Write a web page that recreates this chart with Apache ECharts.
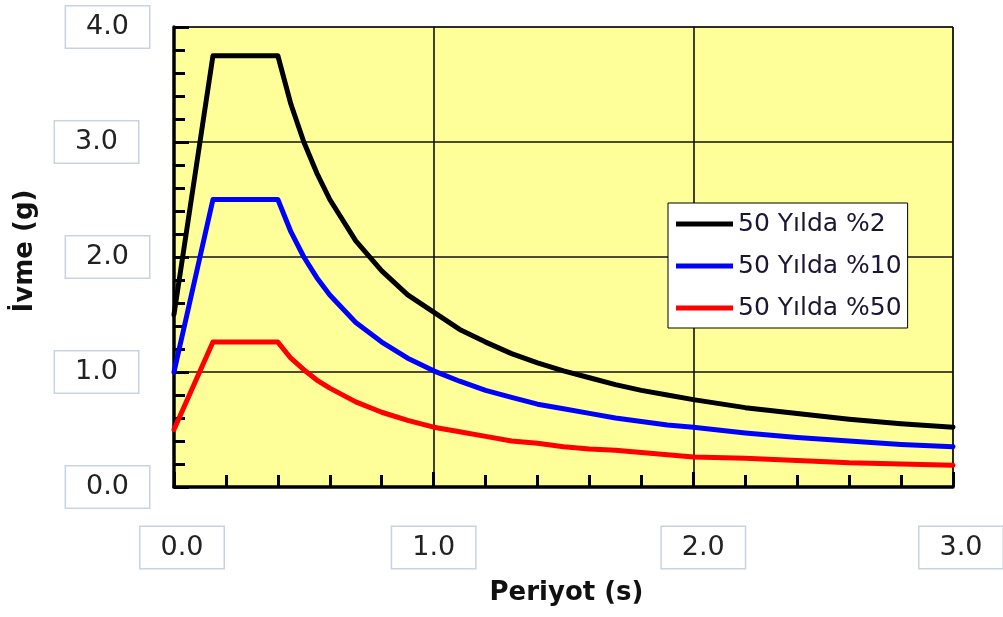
<!DOCTYPE html>
<html>
<head>
<meta charset="utf-8">
<script src="https://cdn.jsdelivr.net/npm/echarts@6/dist/echarts.min.js"></script>
<style>
  html, body { margin: 0; padding: 0; background: #ffffff; }
  #chart { width: 1003px; height: 617px; }
</style>
</head>
<body>
<div id="chart"></div>
<script>
// Periods (s)
var periods = [0, 0.15, 0.4, 0.45, 0.5, 0.55, 0.6, 0.7, 0.8, 0.9, 1.0, 1.1, 1.2, 1.3, 1.4, 1.5,
               1.6, 1.7, 1.8, 1.9, 2.0, 2.2, 2.4, 2.6, 2.8, 3.0];

// Spectral acceleration (g) for each hazard level
var accel2 = [1.50, 3.75, 3.75, 3.33, 3.00, 2.73, 2.50, 2.14, 1.88, 1.67, 1.52, 1.37, 1.26, 1.16, 1.08, 1.01,
              0.95, 0.89, 0.84, 0.80, 0.76, 0.69, 0.64, 0.59, 0.55, 0.52];
var accel10 = [1.00, 2.50, 2.50, 2.22, 2.00, 1.82, 1.67, 1.43, 1.26, 1.12, 1.01, 0.92, 0.84, 0.78, 0.72, 0.68,
               0.64, 0.60, 0.57, 0.54, 0.52, 0.47, 0.43, 0.40, 0.37, 0.35];
var accel50 = [0.50, 1.26, 1.26, 1.12, 1.02, 0.93, 0.86, 0.74, 0.65, 0.58, 0.52, 0.48, 0.44, 0.40, 0.38, 0.35,
               0.33, 0.32, 0.30, 0.28, 0.26, 0.25, 0.23, 0.21, 0.20, 0.19];

var seriesNames = ['50 Yılda %2', '50 Yılda %10', '50 Yılda %50'];
var seriesColors = ['#000000', '#0000ff', '#ff0000'];

var xTickLabels = ['0.0', '1.0', '2.0', '3.0'];
var yTickLabels = ['0.0', '1.0', '2.0', '3.0', '4.0'];

function pairs(xs, ys) {
  return xs.map(function (x, i) { return [x, ys[i]]; });
}

var FONT = 'DejaVu Sans';

// boxed tick label style
var boxStyle = {
  fontFamily: FONT,
  fontSize: 27,
  color: '#222222',
  height: 33,
  lineHeight: 33,
  backgroundColor: '#ffffff',
  borderColor: '#c8d2e4',
  borderWidth: 1.5,
  padding: [4, 20, 4, 20]
};

// small spacers nudging individual label boxes
var xShift = { '0.0': 16, '1.0': 0, '2.0': 20, '3.0': 16 };
var yShift = { '0.0': 0, '1.0': 11, '2.0': 0, '3.0': 11, '4.0': 0 };

function spacer(w) {
  return w > 0 ? '{s' + w + '|}' : '';
}

var richCommon = { box: boxStyle, s11: { width: 11 }, s16: { width: 16 }, s20: { width: 20 } };

var chart = echarts.init(document.getElementById('chart'), null, { renderer: 'canvas' });

chart.setOption({
  backgroundColor: '#ffffff',
  animation: false,
  grid: {
    left: 174, right: 50, top: 27, bottom: 130,
    outerBoundsMode: 'none',
    containLabel: false,
    show: true,
    backgroundColor: '#ffff99',
    borderColor: '#000000',
    borderWidth: 1
  },
  legend: {
    data: seriesNames,
    orient: 'vertical',
    left: 668,
    top: 203,
    backgroundColor: '#ffffff',
    borderColor: '#000000',
    borderWidth: 1,
    borderRadius: 0,
    padding: [6, 6, 5, 8],
    itemWidth: 57,
    itemHeight: 5,
    itemGap: 12,
    icon: 'rect',
    textStyle: { fontFamily: FONT, fontSize: 25, color: '#1c1534', lineHeight: 30 }
  },
  xAxis: {
    type: 'value',
    min: 0, max: 3, interval: 1,
    name: 'Periyot (s)',
    nameLocation: 'middle',
    nameGap: 93,
    nameTextStyle: { fontFamily: FONT, fontSize: 26, fontWeight: 'bold', color: '#111111', padding: [0, 0, 0, 6] },
    axisLine: { show: true, onZero: false, lineStyle: { color: '#000000', width: 3.5 } },
    axisTick: { show: true, inside: true, length: 15, lineStyle: { color: '#000000', width: 3 } },
    minorTick: { show: true, splitNumber: 5, length: 12, lineStyle: { color: '#000000', width: 3 } },
    splitLine: { show: true, lineStyle: { color: '#111111', width: 1.6 } },
    axisLabel: {
      margin: 44,
      showMinLabel: true, showMaxLabel: true,
      formatter: function (v) {
        var t = xTickLabels[Math.round(v)];
        return spacer(xShift[t]) + '{box|' + t + '}';
      },
      rich: richCommon
    }
  },
  yAxis: {
    type: 'value',
    min: 0, max: 4, interval: 1,
    name: 'İvme (g)',
    nameLocation: 'middle',
    nameGap: 136,
    nameTextStyle: { fontFamily: FONT, fontSize: 26, fontWeight: 'bold', color: '#111111', padding: [0, 0, 0, 12] },
    axisLine: { show: true, onZero: false, lineStyle: { color: '#000000', width: 3.5 } },
    axisTick: { show: true, inside: true, length: 15, lineStyle: { color: '#000000', width: 3 } },
    minorTick: { show: true, splitNumber: 5, length: 11, lineStyle: { color: '#000000', width: 3 } },
    splitLine: { show: true, lineStyle: { color: '#111111', width: 1.6 } },
    axisLabel: {
      margin: 25,
      showMinLabel: true, showMaxLabel: true,
      formatter: function (v) {
        var t = yTickLabels[Math.round(v)];
        return '{box|' + t + '}' + spacer(yShift[t]);
      },
      rich: richCommon
    }
  },
  series: [accel2, accel10, accel50].map(function (vals, i) {
    return {
      name: seriesNames[i],
      type: 'line',
      data: pairs(periods, vals),
      symbol: 'none',
      color: seriesColors[i],
      lineStyle: { color: seriesColors[i], width: 5, join: 'round', cap: 'round' },
      z: 5 - i
    };
  })
});
</script>
</body>
</html>
